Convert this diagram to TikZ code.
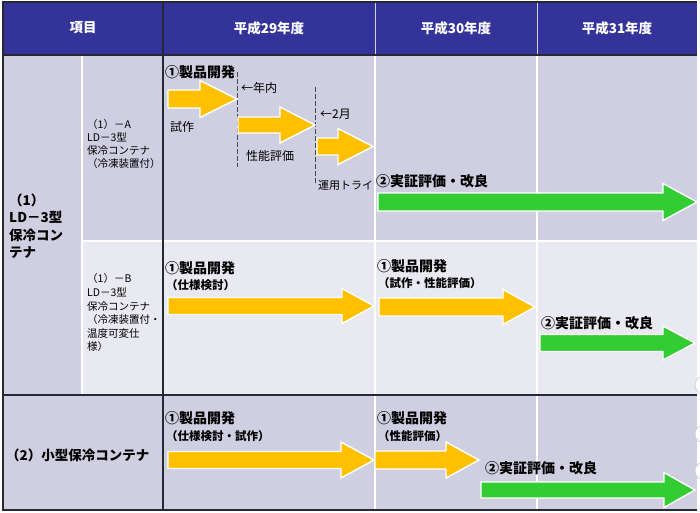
\documentclass[tikz,border=0pt]{standalone}
\usepackage{fontspec}
\setmainfont{Noto Sans CJK JP}
\definecolor{hdrblue}{RGB}{51,51,153}
\definecolor{lav}{RGB}{207,207,225}
\definecolor{lavlt}{RGB}{233,233,241}
\definecolor{yel}{RGB}{255,192,0}
\definecolor{grn}{RGB}{51,204,51}
\definecolor{rule}{RGB}{40,40,50}
\newcommand\blkarrow[7]{%
  \filldraw[fill=#1,draw=white,line width=1.4pt,line join=miter]
    (#2,#5-#6) -- (#3,#5-#6) -- (#3,#5-#7) -- (#4,#5) -- (#3,#5+#7)
    -- (#3,#5+#6) -- (#2,#5+#6) -- cycle;}
\begin{document}
\begin{tikzpicture}[x=1pt,y=-1pt,
  hdr/.style={text=white,font=\bfseries\fontsize{13.5}{16}\selectfont,inner sep=0},
  ttl/.style={anchor=west,inner sep=0,font=\bfseries\fontsize{14}{16}\selectfont},
  subttl/.style={anchor=west,inner sep=0,font=\bfseries\fontsize{11.5}{14}\selectfont},
  lbl/.style={anchor=west,inner sep=0,font=\fontsize{12}{14}\selectfont},
  side/.style={anchor=west,inner sep=0,align=left},
  dashln/.style={draw=gray!55!black,line width=0.9pt,dash pattern=on 4.5pt off 2.5pt}]
\useasboundingbox (0,0) rectangle (700,512);
\fill[white] (0,0) rectangle (700,512);
% cell fills
\fill[hdrblue] (3,2) rectangle (697,55);
\fill[lav] (3,55) rectangle (697,241);
\fill[lav] (3,241) rectangle (82,395);
\fill[lavlt] (82,241) rectangle (697,395);
\fill[lav] (3,395) rectangle (697,510);
% light grid lines
\draw[white,line width=1.2pt] (82,55) -- (82,395) (375,55) -- (375,510)
  (537,55) -- (537,510) (82,241) -- (697,241);
\draw[gray!35,line width=0.9pt] (375,2) -- (375,55) (537,2) -- (537,55);
% dark grid lines
\draw[rule,line width=1.2pt] (697,2) -- (3,2) -- (3,510) -- (697,510);
\draw[rule,line width=1.2pt] (3,55) -- (697,55) (3,395) -- (697,395) (163,2) -- (163,510);
% side circles at right edge
\foreach \cy in {385,434,471}
  \filldraw[fill=white,draw=gray!35,line width=0.8pt] (704,\cy) circle (9);
% header
\node[hdr] (h0) at (83,28) {項目};
\node[hdr] (h1) at (269,28) {平成29年度};
\node[hdr] (h2) at (456,28) {平成30年度};
\node[hdr] (h3) at (617,28) {平成31年度};
% left column
\node[side,font=\bfseries\fontsize{13.5}{17.5}\selectfont] (r1) at (9,226)
  {（1）\\LD－3型\\保冷コン\\テナ};
\node[side,font=\fontsize{10.5}{13.3}\selectfont] (r1a) at (87,144)
  {（1）－A\\LD－3型\\保冷コンテナ\\（冷凍装置付）};
\node[side,font=\fontsize{10.5}{13.6}\selectfont] (r1b) at (87,313)
  {（1）－B\\LD－3型\\保冷コンテナ\\（冷凍装置付・\\温度可変仕\\様）};
\node[anchor=west,inner sep=0,font=\bfseries\fontsize{13.5}{16}\selectfont] (r2) at (6,455)
  {（2）小型保冷コンテナ};
% row A
\node[ttl] (ta) at (165,72) {①製品開発};
\draw[dashln] (237,72) -- (237,167);
\draw[dashln] (315,87) -- (315,183);
\blkarrow{yel}{168}{200}{237}{99}{9}{18.5}
\blkarrow{yel}{238}{280}{315}{125}{8}{18}
\blkarrow{yel}{317}{338}{373}{146.5}{8.5}{18}
\node[lbl] (la1) at (241,88) {←年内};
\node[lbl] (la2) at (170,127) {試作};
\node[lbl] (la3) at (320,114) {←2月};
\node[lbl] (la4) at (246,156) {性能評価};
\node[lbl,font=\fontsize{11}{13}\selectfont] (la5) at (318,185) {運用トライ};
\node[ttl] (ga) at (376,181) {②実証評価・改良};
\blkarrow{grn}{378}{663}{697}{202}{9}{18.5}
% row B
\node[ttl] (tb1) at (165,268) {①製品開発};
\node[subttl] (sb1) at (166,285) {（仕様検討）};
\blkarrow{yel}{168}{342}{374}{306}{8.5}{17.5}
\node[ttl] (tb2) at (377,266) {①製品開発};
\node[subttl] (sb2) at (378,283) {（試作・性能評価）};
\blkarrow{yel}{379}{503}{535}{307}{9}{17.5}
\node[ttl] (gb) at (541,323) {②実証評価・改良};
\blkarrow{grn}{540}{663}{695}{343}{8.5}{17}
% row 2
\node[ttl] (tc1) at (165,418) {①製品開発};
\node[subttl] (sc1) at (166,436) {（仕様検討・試作）};
\blkarrow{yel}{168}{341}{374}{460}{8.5}{18}
\node[ttl] (tc2) at (377,418) {①製品開発};
\node[subttl] (sc2) at (378,436) {（性能評価）};
\blkarrow{yel}{375}{446}{479}{460}{9}{18}
\node[ttl] (gc) at (485,468) {②実証評価・改良};
\blkarrow{grn}{481}{664}{695}{490}{8}{17.5}
\end{tikzpicture}
\end{document}
